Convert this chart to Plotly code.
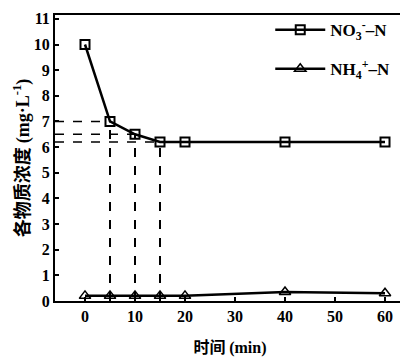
import plotly.graph_objects as go

time_min = [0, 5, 10, 15, 20, 40, 60]
no3_n = [10.0, 7.0, 6.5, 6.2, 6.2, 6.2, 6.2]
nh4_n = [0.2, 0.2, 0.2, 0.2, 0.2, 0.35, 0.3]
guide_idx = [1, 2, 3]  # points with dashed guide lines
x_ticks = [0, 10, 20, 30, 40, 50, 60]
y_ticks = list(range(0, 12))

serif = "Liberation Serif, DejaVu Serif, serif"
cjk = "Noto Sans CJK SC, sans-serif"

fig = go.Figure()
fig.add_trace(go.Scatter(
    x=time_min, y=no3_n, mode="lines+markers",
    name="NO<sub>3</sub><sup>-</sup>–N", legendgroup="no3",
    line=dict(color="black", width=2.5),
    marker=dict(symbol="square-open", size=9, color="black", line=dict(width=2)),
))
fig.add_trace(go.Scatter(
    x=time_min, y=nh4_n, mode="lines+markers",
    name="NH<sub>4</sub><sup>+</sup>–N", legendgroup="nh4",
    line=dict(color="black", width=2.5),
    marker=dict(symbol="triangle-up-open", size=10, color="black", line=dict(width=1.5)),
))

x0 = -6
for i in guide_idx:
    fig.add_shape(type="line", x0=x0, x1=time_min[i], y0=no3_n[i], y1=no3_n[i],
                  line=dict(color="black", width=1.5, dash="dash"), layer="below")
    fig.add_shape(type="line", x0=time_min[i], x1=time_min[i], y0=0, y1=no3_n[i],
                  line=dict(color="black", width=2, dash="dash"), layer="below")

fig.update_layout(
    width=400, height=355,
    margin=dict(l=47, r=3, t=7, b=62),
    paper_bgcolor="white", plot_bgcolor="white",
    showlegend=True,
    legend=dict(x=0.615, y=1.01, xanchor="left", yanchor="top", itemwidth=50,
                bgcolor="rgba(0,0,0,0)", tracegroupgap=14,
                font=dict(family=serif, size=17, color="black", weight="bold")),
    xaxis=dict(range=[-6, 64], tickmode="array", tickvals=x_ticks, automargin=False,
               ticks="inside", ticklen=4, tickwidth=1.5, tickcolor="black",
               showline=True, linecolor="black", linewidth=2, mirror=True,
               showgrid=False, zeroline=False,
               tickfont=dict(family=serif, size=16, color="black", weight="bold"),
               title=dict(text="时间 <span style='font-family:Liberation Serif'>(min)</span>",
                          font=dict(family=cjk, size=16, color="black", weight="bold"),
                          standoff=18)),
    yaxis=dict(range=[0, 11.15], tickmode="array", tickvals=y_ticks, automargin=False,
               ticks="inside", ticklen=4, tickwidth=1.5, tickcolor="black",
               showline=True, linecolor="black", linewidth=2, mirror=True,
               showgrid=False, zeroline=False,
               tickfont=dict(family=serif, size=16, color="black", weight="bold"),
               title=dict(text="各物质浓度 <span style='font-family:Liberation Serif'>(mg·L<sup>-1</sup>)</span>",
                          font=dict(family=cjk, size=18, color="black", weight="bold"),
                          standoff=4)),
)

fig.write_html("out.html")
